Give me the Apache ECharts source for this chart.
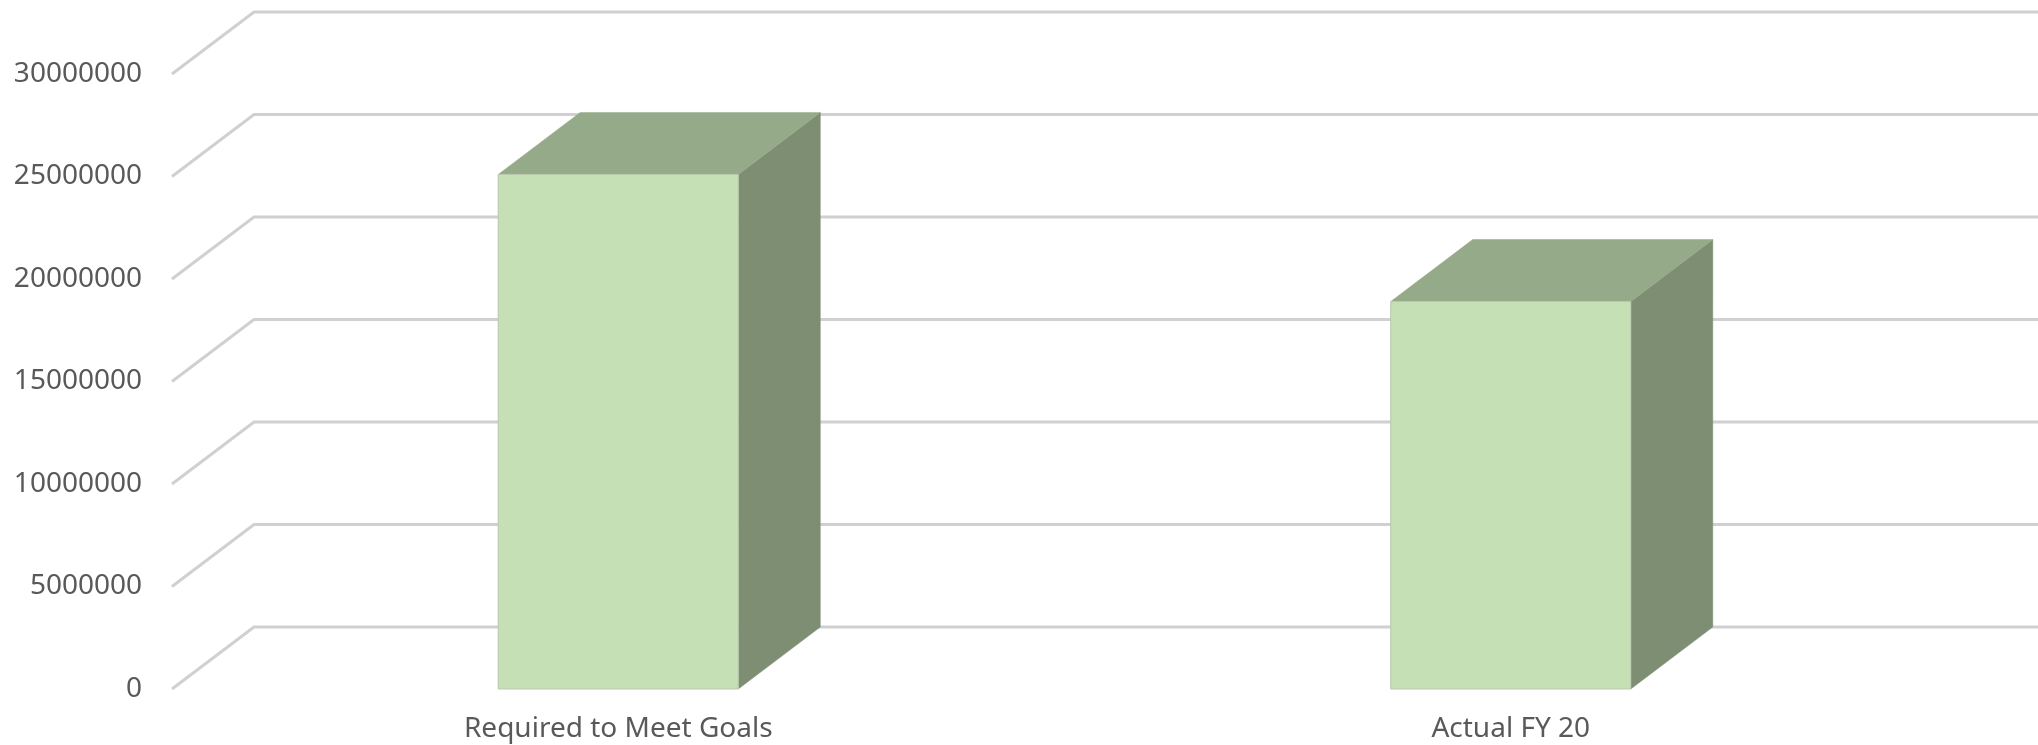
<!DOCTYPE html>
<html>
<head>
<meta charset="utf-8">
<script src="https://cdn.jsdelivr.net/npm/echarts@6/dist/echarts.min.js"></script>
<style>
html,body{margin:0;padding:0;background:#fff;}
#chart{width:2038px;height:745px;}
</style>
</head>
<body>
<div id="chart"></div>
<script>
// ---- data ----
const categories = ['Required to Meet Goals', 'Actual FY 20'];
const values = [25100000, 18900000];
const yTicks = [0, 5000000, 10000000, 15000000, 20000000, 25000000, 30000000];

// ---- layout / style constants ----
const DX = 82, DY = -62;          // 3D depth offset
const BAR_FRAC = 0.269;           // bar width as fraction of the category band
const FRONT = '#c5e0b4', TOP = '#95aa89', SIDE = '#7e8e72';
const GRID_COLOR = '#d0d0d0';

const chart = echarts.init(document.getElementById('chart'), null, {renderer: 'canvas'});

const option = {
  animation: false,
  backgroundColor: '#ffffff',
  grid: {left: 172, right: 81, top: 74, bottom: 56, containLabel: false},
  xAxis: {
    type: 'category',
    data: categories,
    boundaryGap: true,
    axisLine: {show: false},
    axisTick: {show: false},
    splitLine: {show: false},
    axisLabel: {
      color: '#595959', fontSize: 28, fontFamily: 'Noto Sans',
      margin: 25, lineHeight: 30
    }
  },
  yAxis: {
    type: 'value',
    min: 0, max: 30000000, interval: 5000000,
    axisLine: {show: false},
    axisTick: {show: false},
    splitLine: {show: false},
    axisLabel: {
      color: '#595959', fontSize: 28, fontFamily: 'Noto Sans',
      margin: 30,
      formatter: v => String(v)
    }
  },
  series: [
    {
      type: 'custom',
      name: 'gridlines',
      z: 1,
      silent: true,
      data: yTicks.map(v => [0, v]),
      encode: {x: 0, y: 1},
      renderItem: function (params, api) {
        const cs = params.coordSys;
        const y = api.coord([0, api.value(1)])[1];
        const left = cs.x, right = cs.x + cs.width;
        return {
          type: 'polyline',
          shape: {points: [[left, y], [left + DX, y + DY], [right + DX, y + DY]]},
          style: {stroke: GRID_COLOR, lineWidth: 3, fill: null}
        };
      }
    },
    {
      type: 'custom',
      name: 'bars',
      z: 2,
      data: values.map((v, i) => [i, v]),
      encode: {x: 0, y: 1},
      renderItem: function (params, api) {
        const c = api.coord([api.value(0), api.value(1)]);
        const b = api.coord([api.value(0), 0]);
        const w = api.size([1, 0])[0] * BAR_FRAC;
        const x0 = c[0] - w / 2, x1 = c[0] + w / 2;
        const yT = c[1], yB = b[1];
        return {
          type: 'group',
          children: [
            {
              type: 'polygon',
              shape: {points: [[x1, yT], [x1 + DX, yT + DY], [x1 + DX, yB + DY], [x1, yB]]},
              style: {fill: SIDE, stroke: SIDE, lineWidth: 0.5}
            },
            {
              type: 'polygon',
              shape: {points: [[x0, yT], [x0 + DX, yT + DY], [x1 + DX, yT + DY], [x1, yT]]},
              style: {fill: TOP, stroke: TOP, lineWidth: 0.5}
            },
            {
              type: 'rect',
              shape: {x: x0, y: yT, width: w, height: yB - yT},
              style: {fill: FRONT, stroke: '#b9c9ad', lineWidth: 1}
            }
          ]
        };
      }
    }
  ]
};
chart.setOption(option);
</script>
</body>
</html>
